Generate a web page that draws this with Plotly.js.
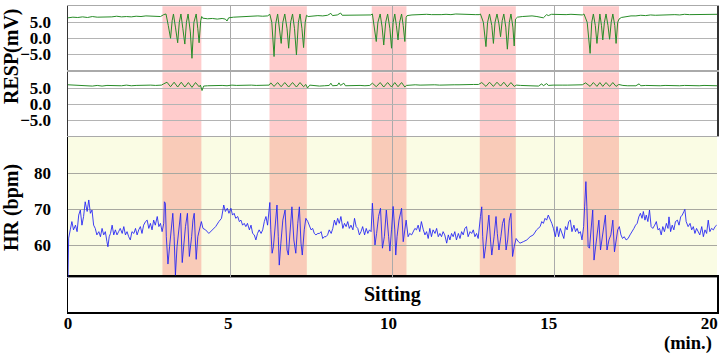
<!DOCTYPE html>
<html><head><meta charset="utf-8">
<script src="https://cdn.plot.ly/plotly-3.0.1.min.js"></script>
<style>html,body{margin:0;padding:0;background:#fff}#chart{width:722px;height:355px}</style>
</head><body><div id="chart"></div>
<script>
// ---- data ----
const bandStart = [2.91, 6.21, 9.36, 12.69, 15.87];
const bandEnd   = [4.11, 7.36, 10.43, 13.80, 16.98];
const xTickVals = [0, 5, 10, 15, 20];
const respTickVals = [-5, 0, 5];
const hrTickVals = [60, 70, 80];
const postureLabel = 'Sitting';

const resp1T = [
 0,0.15,0.3,0.45,0.6,0.75,0.9,1.05,1.2,1.35,1.5,1.65,1.8,1.95,2.1,2.25,2.4,2.55,2.7,2.85,
 2.95,3.02,3.09,3.16,3.21,3.25,3.31,3.38,3.43,3.48,3.54,3.60,3.65,3.70,3.77,3.82,3.88,3.95,4.00,4.04,4.09,4.12,
 4.15,4.3,4.45,4.6,4.75,4.85,4.9,4.95,5.1,5.25,5.4,5.55,5.7,5.85,6.0,6.15,
 6.22,6.28,6.35,6.40,6.46,6.52,6.57,6.62,6.68,6.75,6.80,6.86,6.92,6.98,7.04,7.10,7.15,7.21,7.26,7.31,7.35,
 7.4,7.55,7.7,7.85,8.0,8.1,8.15,8.3,8.4,8.45,8.6,8.75,8.9,9.05,9.2,9.33,
 9.38,9.44,9.50,9.55,9.62,9.68,9.73,9.79,9.85,9.92,9.97,10.02,10.07,10.12,10.17,10.22,10.28,10.33,10.38,10.42,
 10.45,10.6,10.75,10.9,11.05,11.2,11.35,11.5,11.65,11.8,11.95,12.1,12.25,12.4,12.55,12.67,
 12.71,12.80,12.88,12.93,12.99,13.06,13.11,13.16,13.22,13.28,13.33,13.38,13.43,13.49,13.54,13.60,13.65,13.71,13.75,13.79,
 13.85,14.0,14.15,14.3,14.45,14.6,14.65,14.75,14.8,14.9,15.05,15.2,15.35,15.5,15.65,15.85,
 15.90,16.00,16.09,16.14,16.19,16.25,16.30,16.35,16.39,16.44,16.48,16.53,16.58,16.64,16.69,16.74,16.79,16.85,16.89,16.94,16.98,
 17.05,17.2,17.35,17.5,17.65,17.8,17.95,18.1,18.25,18.4,18.55,18.7,18.85,19.0,19.15,19.3,19.45,19.6,19.75,19.9,20.0
];
const resp1V = [
 6.4,6.6,6.5,6.7,6.5,6.8,6.6,6.6,6.8,6.7,6.9,6.7,6.8,6.7,6.9,6.8,7.0,6.9,7.0,6.8,
 7.4,7.6,4.0,0.0,5.5,7.6,3.5,-1.4,5.0,7.6,3.0,-1.8,5.0,7.6,2.0,-6.25,5.0,7.6,3.0,-1.4,5.5,6.8,
 6.3,6.1,6.2,6.0,6.2,6.0,5.4,6.4,6.6,6.7,6.8,6.8,6.9,7.0,6.9,7.0,
 7.5,5.0,-5.7,4.5,7.6,3.0,-1.6,5.0,7.6,3.0,-3.1,5.0,7.6,3.0,-5.2,5.0,7.6,3.0,-2.9,5.0,7.2,
 6.8,7.0,7.1,7.0,7.2,7.8,7.1,7.3,7.9,7.2,7.2,7.4,7.3,7.3,7.4,7.3,
 7.6,4.0,-1.0,5.0,7.6,3.5,-2.1,5.0,7.6,3.0,-3.1,5.0,7.6,4.0,-0.5,5.0,7.6,4.0,-1.0,6.5,
 7.1,7.3,7.4,7.3,7.5,7.4,7.3,7.4,7.5,7.4,7.6,7.5,7.4,7.5,7.4,7.4,
 7.6,5.0,-2.6,5.0,7.6,4.0,-1.6,5.0,7.6,4.5,0.5,5.5,7.6,3.5,-3.4,5.0,7.6,3.5,-2.4,6.0,
 6.6,6.8,6.9,7.0,6.8,6.6,6.4,7.4,7.1,7.5,7.4,7.5,7.4,7.5,7.4,7.3,
 7.6,5.0,-4.7,5.0,7.6,4.0,-1.6,5.0,7.6,4.0,-0.5,5.0,7.6,4.0,-0.3,5.0,7.6,4.0,-1.6,5.0,6.0,
 6.5,6.8,7.0,7.0,7.2,7.1,7.3,7.2,7.3,7.4,7.3,7.4,7.3,7.5,7.4,7.4,7.5,7.4,7.5,7.4,7.5
];

const resp2T = [
 0,0.2,0.4,0.6,0.75,0.9,1.05,1.2,1.35,1.5,1.65,1.8,1.95,2.1,2.25,2.4,2.55,2.7,2.88,
 2.95,3.05,3.16,3.27,3.38,3.49,3.60,3.71,3.82,3.93,4.04,4.08,4.13,4.18,
 4.3,4.45,4.6,4.75,4.9,5.05,5.2,5.35,5.5,5.65,5.8,5.95,6.1,6.2,
 6.25,6.35,6.46,6.57,6.68,6.80,6.92,7.04,7.15,7.26,7.33,7.38,7.45,
 7.6,7.75,7.9,8.05,8.1,8.15,8.3,8.35,8.4,8.5,8.55,8.7,8.85,9.0,9.15,9.3,
 9.38,9.50,9.62,9.73,9.85,9.97,10.07,10.17,10.28,10.38,10.43,
 10.55,10.7,10.85,11.0,11.15,11.3,11.45,11.6,11.75,11.9,12.05,12.2,12.35,12.5,12.65,
 12.75,12.88,12.99,13.11,13.22,13.33,13.43,13.54,13.65,13.75,13.82,
 13.95,14.1,14.25,14.4,14.5,14.6,14.65,14.75,14.8,14.95,15.1,15.25,15.4,15.55,15.7,15.85,
 15.95,16.09,16.19,16.30,16.39,16.48,16.58,16.69,16.79,16.89,16.97,
 17.1,17.25,17.4,17.5,17.6,17.65,17.8,17.95,18.1,18.25,18.4,18.55,18.7,18.85,19.0,19.15,19.3,19.45,19.6,19.75,19.9,20.0
];
const resp2V = [
 6.1,6.0,6.1,5.8,5.7,5.9,5.7,5.9,5.8,5.9,5.8,6.0,5.8,5.9,6.0,5.9,6.0,5.9,6.0,
 6.4,6.9,5.5,6.9,5.4,6.9,5.4,6.8,5.3,6.8,5.5,6.0,4.3,5.7,
 5.8,5.9,5.8,5.9,5.8,6.0,5.9,6.0,5.9,6.0,5.9,6.0,5.9,6.0,
 6.7,5.6,6.8,5.5,6.8,5.4,6.8,5.4,6.8,5.5,6.2,5.1,6.0,
 5.8,5.7,5.8,5.9,6.6,5.8,5.9,6.7,5.9,6.6,5.8,5.9,5.8,5.9,5.8,5.9,
 6.6,5.5,6.8,5.4,6.8,5.4,6.8,5.5,6.8,5.4,5.9,
 6.0,6.1,6.0,6.1,6.0,6.1,6.0,6.1,6.2,6.1,6.1,6.2,6.1,6.2,6.2,
 6.8,5.6,6.9,5.6,6.9,5.7,6.9,5.5,6.8,5.6,6.0,
 5.9,5.8,5.7,5.6,5.7,6.4,5.8,6.5,5.9,6.0,5.9,6.0,6.0,6.0,6.0,6.1,
 6.7,5.6,6.8,5.6,6.8,5.6,6.8,5.6,6.8,5.6,6.2,
 5.9,5.8,5.9,5.8,6.4,5.8,5.9,5.8,5.9,5.8,5.9,5.8,5.9,5.8,5.9,5.8,5.9,5.8,5.9,5.8,5.9,5.8
];

const hrT = [
 0.00,0.02,0.07,0.12,0.17,0.23,0.28,0.33,0.38,0.43,
 0.48,0.53,0.59,0.64,0.69,0.74,0.79,0.84,0.89,0.95,
 1.00,1.05,1.10,1.15,1.20,1.23,1.27,1.31,1.36,1.41,
 1.46,1.51,1.56,1.61,1.67,1.72,1.77,1.82,1.87,1.92,
 1.97,2.03,2.08,2.13,2.18,2.23,2.28,2.33,2.39,2.44,
 2.49,2.54,2.59,2.64,2.69,2.75,2.80,2.85,2.90,2.95,
 2.97,3.00,3.03,3.08,3.13,3.19,3.23,3.27,3.31,3.36,
 3.41,3.47,3.52,3.57,3.62,3.68,3.74,3.81,3.85,3.89,
 3.95,4.00,4.06,4.11,4.16,4.24,4.34,4.44,4.55,4.65,
 4.73,4.80,4.85,4.91,4.96,5.02,5.07,5.12,5.17,5.23,
 5.28,5.33,5.38,5.43,5.48,5.53,5.59,5.64,5.69,5.74,
 5.79,5.84,5.89,5.95,6.00,6.05,6.10,6.15,6.19,6.22,
 6.25,6.29,6.33,6.38,6.44,6.48,6.51,6.56,6.62,6.69,
 6.75,6.79,6.85,6.90,6.96,7.02,7.08,7.13,7.18,7.22,
 7.28,7.33,7.39,7.44,7.49,7.54,7.59,7.64,7.70,7.75,
 7.80,7.85,7.90,7.95,8.00,8.05,8.11,8.16,8.21,8.26,
 8.31,8.36,8.41,8.47,8.52,8.57,8.62,8.67,8.72,8.78,
 8.83,8.88,8.93,8.98,9.03,9.08,9.14,9.19,9.24,9.29,
 9.34,9.38,9.42,9.46,9.51,9.57,9.63,9.69,9.75,9.81,
 9.88,9.92,9.97,10.02,10.07,10.10,10.14,10.20,10.28,10.33,
 10.38,10.42,10.48,10.53,10.59,10.64,10.69,10.74,10.79,10.84,
 10.89,10.95,11.00,11.05,11.10,11.15,11.20,11.25,11.31,11.36,
 11.41,11.46,11.51,11.56,11.61,11.67,11.72,11.77,11.82,11.87,
 11.92,11.97,12.03,12.08,12.13,12.18,12.23,12.28,12.33,12.39,
 12.44,12.49,12.54,12.59,12.64,12.71,12.75,12.78,12.82,12.87,
 12.92,12.97,13.02,13.06,13.13,13.19,13.23,13.28,13.34,13.39,
 13.44,13.50,13.55,13.60,13.65,13.70,13.75,13.81,13.88,13.93,
 14.03,14.14,14.24,14.34,14.44,14.55,14.60,14.65,14.70,14.75,
 14.80,14.85,14.91,14.96,15.02,15.07,15.12,15.17,15.23,15.28,
 15.33,15.38,15.43,15.48,15.53,15.59,15.64,15.69,15.74,15.79,
 15.84,15.89,15.92,15.96,15.99,16.03,16.07,16.12,16.17,16.21,
 16.25,16.31,16.36,16.41,16.45,16.51,16.56,16.61,16.67,16.73,
 16.79,16.84,16.89,16.94,16.99,17.04,17.09,17.14,17.20,17.26,
 17.32,17.39,17.44,17.49,17.54,17.59,17.64,17.69,17.73,17.78,
 17.82,17.87,17.92,17.97,18.02,18.08,18.13,18.18,18.23,18.28,
 18.33,18.38,18.44,18.49,18.52,18.57,18.62,18.67,18.72,18.78,
 18.83,18.88,18.93,18.98,19.01,19.05,19.11,19.17,19.22,19.27,
 19.32,19.37,19.42,19.47,19.53,19.58,19.63,19.68,19.73,19.78,
 19.83,19.89,19.94,19.99
];
const hrV = [
 51.2,62.0,64.3,66.6,64.3,65.6,63.8,68.4,69.8,65.6,
 68.0,72.1,69.4,72.6,68.9,69.8,65.6,64.7,62.9,63.8,
 62.4,64.7,62.9,63.8,61.0,59.6,62.4,63.3,65.6,62.9,
 64.3,62.9,63.8,64.7,63.3,65.2,62.9,63.8,62.4,61.5,
 63.8,63.3,64.7,62.9,64.3,65.2,63.3,65.6,66.6,67.0,
 64.7,66.1,64.3,67.0,65.6,68.0,65.2,66.1,63.8,66.1,
 72.1,71.7,62.4,54.8,59.6,66.1,68.9,62.4,51.7,59.6,
 64.3,68.9,55.2,60.6,65.2,68.9,56.9,62.4,67.0,68.9,
 56.1,62.4,65.2,66.6,64.7,64.3,63.3,64.3,65.2,66.6,
 67.5,71.2,69.4,70.3,68.9,70.3,68.4,68.9,67.5,68.0,
 66.6,67.0,65.6,66.1,65.2,66.1,64.3,65.6,63.3,62.9,
 61.5,63.3,64.3,63.3,64.3,66.6,68.0,65.6,68.9,71.9,
 64.3,57.8,59.6,65.2,71.2,62.4,54.5,60.6,67.0,69.8,
 58.7,57.3,65.2,70.7,61.5,57.8,66.1,70.7,60.6,57.3,
 64.3,67.5,66.6,65.6,64.3,64.7,63.3,62.9,63.3,63.3,
 63.8,61.9,62.4,62.4,62.9,64.3,63.3,64.7,67.0,65.6,
 67.5,66.1,68.0,64.7,66.1,65.2,66.6,64.7,65.6,64.3,
 67.5,65.2,64.7,62.9,63.8,65.2,62.9,64.7,63.3,64.3,
 63.8,71.7,67.0,60.1,63.3,68.0,70.3,59.2,62.4,69.8,
 62.4,58.4,64.3,70.8,64.3,57.3,62.4,67.0,70.3,61.0,
 64.3,67.0,62.4,63.3,62.9,63.8,64.7,64.3,65.6,63.8,
 66.6,64.3,62.9,63.8,61.9,64.7,62.4,64.3,63.3,64.7,
 62.4,63.3,62.4,63.8,62.9,60.6,62.9,61.5,63.3,62.4,
 63.8,61.5,63.3,61.9,63.8,62.9,64.7,65.2,62.4,63.8,
 63.3,64.3,62.4,63.3,61.9,68.0,70.7,62.4,56.4,59.6,
 64.3,68.4,61.5,57.3,62.4,68.0,63.3,58.7,62.4,66.1,
 67.5,58.7,61.5,67.0,68.9,56.9,59.6,61.9,61.0,60.6,
 61.0,61.5,62.4,62.9,64.3,65.2,66.6,66.1,67.5,67.0,
 68.4,67.5,66.1,64.7,62.4,65.2,62.4,64.7,62.9,61.9,
 65.2,64.3,66.6,67.0,63.8,65.6,63.8,64.7,63.3,63.8,
 61.5,65.2,70.7,77.7,70.7,59.6,59.2,64.3,69.8,55.9,
 58.7,63.3,67.0,58.7,61.5,65.6,68.4,58.7,61.5,62.9,
 67.0,58.2,61.5,64.3,65.2,62.9,61.9,62.4,61.5,61.9,
 62.9,63.8,64.7,65.6,66.1,67.9,68.9,67.5,69.4,67.0,
 68.4,66.6,69.8,65.2,64.7,65.6,66.6,64.3,64.7,62.9,
 65.2,63.8,66.1,64.7,67.9,63.8,65.6,64.3,66.6,67.0,
 65.6,67.9,68.4,69.4,70.0,66.6,65.2,66.1,64.3,65.2,
 63.3,64.7,63.8,62.9,65.2,62.4,64.3,63.3,67.0,63.8,
 64.7,64.3,65.2,65.6
];

// ---- styling ----
const serif = 'Liberation Serif, Times New Roman, serif';
const tickFont = {family: serif, size: 17, color: '#000', weight: 'bold'};
const titleFont = {family: serif, size: 20, color: '#000', weight: 'bold'};
const minFont = {family: serif, size: 18.5, color: '#000', weight: 'bold'};

const traces = [
  {x: [], y: [], xaxis: 'x', yaxis: 'y', type: 'scatter', mode: 'lines', hoverinfo: 'skip'},
  {x: resp1T, y: resp1V, xaxis: 'x4', yaxis: 'y4', type: 'scatter', mode: 'lines',
   line: {color: 'rgb(40,140,40)', width: 1}, hoverinfo: 'skip'},
  {x: resp2T, y: resp2V, xaxis: 'x3', yaxis: 'y3', type: 'scatter', mode: 'lines',
   line: {color: 'rgb(40,140,40)', width: 1}, hoverinfo: 'skip'},
  {x: hrT, y: hrV, xaxis: 'x2', yaxis: 'y2', type: 'scatter', mode: 'lines',
   line: {color: 'rgba(30,30,245,0.85)', width: 1}, hoverinfo: 'skip'}
];

const shapes = [
  {type: 'rect', xref: 'x2 domain', yref: 'y2 domain', x0: 0, x1: 1, y0: 0, y1: 1,
   fillcolor: '#FAFCE4', line: {width: 0}, layer: 'below'}
];
for (let i = 0; i < bandStart.length; i++) {
  [['x4','y4','#FFCCCC'],['x3','y3','#FFCCCC'],['x2','y2','#F9CBB8']].forEach(([xa, ya, c]) => {
    shapes.push({type: 'rect', xref: xa, yref: ya + ' domain', x0: bandStart[i], x1: bandEnd[i],
      y0: 0, y1: 1, fillcolor: c, line: {width: 0}, layer: 'below'});
  });
}

const gridX = (anchor) => ({
  domain: [0, 1], range: [0, 20], anchor: anchor, tickvals: [5, 10, 15],
  showticklabels: false, showgrid: true, gridcolor: '#AAAAAA', gridwidth: 1,
  zeroline: false, ticks: '', fixedrange: true
});

const layout = {
  width: 722, height: 355,
  margin: {l: 68, r: 5, t: 6, b: 43},
  paper_bgcolor: '#ffffff', plot_bgcolor: 'rgba(0,0,0,0)',
  showlegend: false,
  xaxis: {domain: [0, 1], range: [0, 20.245], anchor: 'y', tickvals: xTickVals,
    tickfont: tickFont, showgrid: false, zeroline: false, ticks: '',
    showline: true, mirror: true, linecolor: '#000', linewidth: 1.5, ticklabelstandoff: -5},
  yaxis: {domain: [0, 0.1144], range: [0, 1], anchor: 'x', showticklabels: false,
    showgrid: false, zeroline: false, ticks: '', showline: true, mirror: true, linecolor: '#000', linewidth: 1.5},
  xaxis2: Object.assign(gridX('y2'), {showline: true, linecolor: '#999', mirror: false}),
  yaxis2: {domain: [0.1144, 0.5719], range: [51.2, 90.1], anchor: 'x2', tickvals: hrTickVals,
    tickfont: tickFont, showgrid: true, gridcolor: '#A8A8A0', zeroline: false, ticks: '',
    showline: true, linecolor: '#000', linewidth: 1.5, ticklabelstandoff: 12},
  xaxis3: Object.assign(gridX('y3'), {showline: true, mirror: true, linecolor: '#AAAAAA'}),
  yaxis3: {domain: [0.5742, 0.7833], range: [-10, 10], anchor: 'x3', tickvals: respTickVals,
    tickformat: '.1f', tickfont: tickFont, showgrid: true, gridcolor: '#B4B4B4', zeroline: false,
    ticks: '', showline: true, mirror: true, linecolor: '#333', linewidth: 1.5, ticklabelstandoff: 12},
  xaxis4: Object.assign(gridX('y4'), {showline: true, mirror: true, linecolor: '#AAAAAA'}),
  yaxis4: {domain: [0.7899, 0.999], range: [-10, 10], anchor: 'x4', tickvals: respTickVals,
    tickformat: '.1f', tickfont: tickFont, showgrid: true, gridcolor: '#B4B4B4', zeroline: false,
    ticks: '', showline: true, mirror: true, linecolor: '#333', linewidth: 1.5, ticklabelstandoff: 12},
  shapes: shapes,
  annotations: [
    {text: 'RESP(mV)', xref: 'paper', yref: 'paper', x: -0.087, y: 0.835, textangle: -90,
     showarrow: false, font: titleFont, xanchor: 'center', yanchor: 'middle', borderpad: 0},
    {text: 'HR (bpm)', xref: 'paper', yref: 'paper', x: -0.087, y: 0.3415, textangle: -90,
     showarrow: false, font: titleFont, xanchor: 'center', yanchor: 'middle', borderpad: 0},
    {text: postureLabel, xref: 'x domain', yref: 'y domain', x: 0.5, y: 0.5,
     showarrow: false, font: titleFont, xanchor: 'center', yanchor: 'middle'},
    {text: '(min.)', xref: 'paper', yref: 'paper', x: 0.9958, y: -0.103,
     showarrow: false, font: minFont, xanchor: 'right', yanchor: 'middle'}
  ]
};

Plotly.newPlot('chart', traces, layout, {displayModeBar: false, staticPlot: true});
</script>
</body></html>
